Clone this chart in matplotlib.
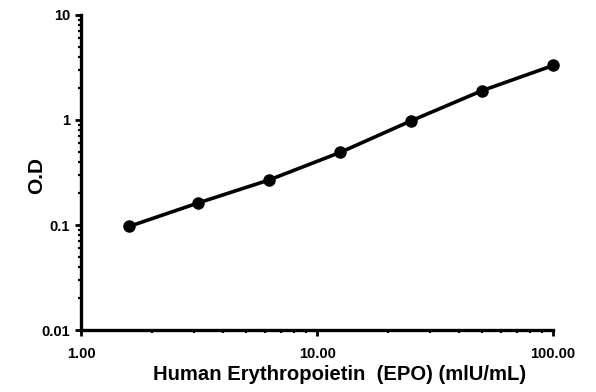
import matplotlib
matplotlib.use('Agg')
import matplotlib.pyplot as plt
from matplotlib.ticker import FixedLocator, FixedFormatter, LogLocator, NullFormatter

conc = [1.6, 3.13, 6.25, 12.5, 25, 50, 100]
od = [0.097, 0.162, 0.268, 0.49, 0.98, 1.9, 3.3]

xticks = [1, 10, 100]
xlabels = ['1.00', '10.00', '100.00']
yticks = [0.01, 0.1, 1, 10]
ylabels = ['0.01', '0.1', '1', '10']

plt.rcParams['font.family'] = ['Liberation Sans', 'DejaVu Sans']
plt.rcParams['font.weight'] = 'bold'

fig = plt.figure(figsize=(5.96, 3.92), dpi=100)
ax = fig.add_axes([0.136, 0.158, 0.792, 0.804])

ax.plot(conc, od, color='black', lw=2.6, marker='o', ms=8, clip_on=False)

ax.set_xscale('log')
ax.set_yscale('log')
ax.set_xlim(1, 100)
ax.set_ylim(0.01, 10)

ax.xaxis.set_major_locator(FixedLocator(xticks))
ax.xaxis.set_major_formatter(FixedFormatter(xlabels))
ax.yaxis.set_major_locator(FixedLocator(yticks))
ax.yaxis.set_major_formatter(FixedFormatter(ylabels))
for a in (ax.xaxis, ax.yaxis):
    a.set_minor_locator(LogLocator(base=10, subs=range(2, 10)))
    a.set_minor_formatter(NullFormatter())

for side in ('top', 'right'):
    ax.spines[side].set_visible(False)
for side in ('left', 'bottom'):
    ax.spines[side].set_linewidth(2.4)

ax.tick_params(which='major', direction='out', length=4, width=2, labelsize=10.5, colors='black')
ax.tick_params(which='minor', direction='out', length=2.5, width=1.6)
ax.tick_params(axis='x', pad=8)
ax.tick_params(axis='y', pad=4)

ax.set_xlabel('Human Erythropoietin  (EPO) (mlU/mL)', fontsize=14.6, fontweight='bold')
ax.xaxis.set_label_coords(0.547, -0.11)
ax.set_ylabel('O.D', fontsize=15, fontweight='bold')
ax.yaxis.set_label_coords(-0.074, 0.49)

fig.savefig('out.png', dpi=100)
